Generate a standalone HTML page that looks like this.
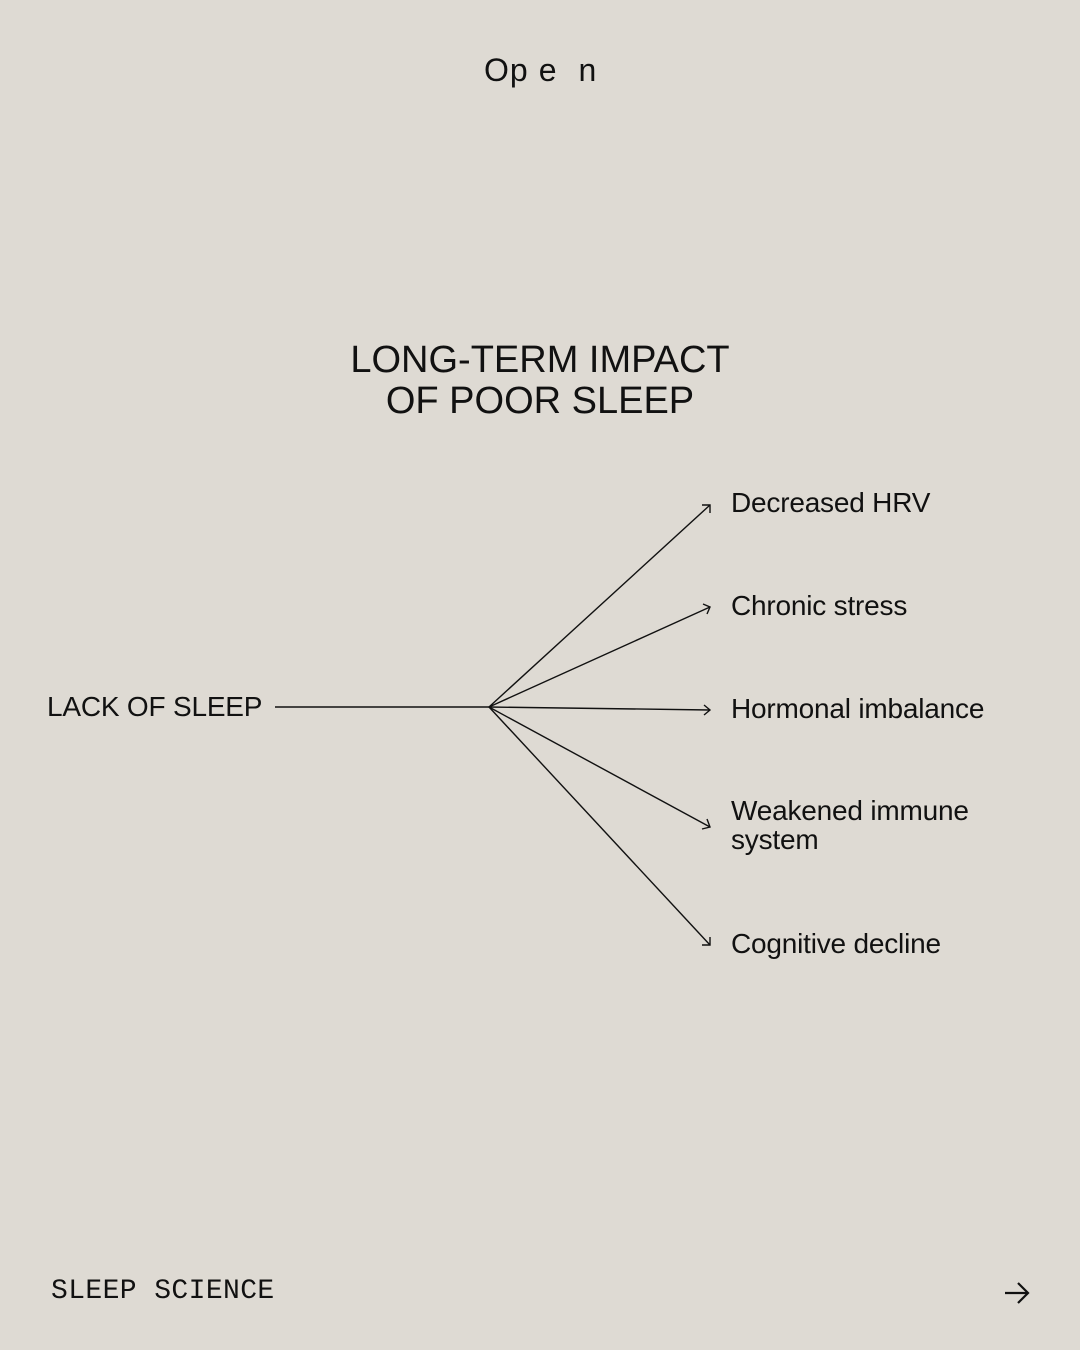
<!DOCTYPE html>
<html><head><meta charset="utf-8"><style>
html,body{margin:0;padding:0}
body{width:1080px;height:1350px;background:#dedad3;position:relative;font-family:"Liberation Sans",sans-serif;color:#111;overflow:hidden}
.t{position:absolute;white-space:nowrap}
.l{font-size:28px;letter-spacing:-0.2px}
</style></head><body>
<div class="t" style="left:484px;top:52px;font-size:32px;letter-spacing:1px">Op<span style="margin-left:10px">e</span><span style="margin-left:21px">n</span></div>
<div class="t" style="left:0;width:1080px;top:340px;text-align:center;font-size:38px;line-height:41px;letter-spacing:0">LONG-TERM IMPACT<br>OF POOR SLEEP</div>
<div class="t l" style="left:47px;top:691px">LACK OF SLEEP</div>
<div class="t l" style="left:731px;top:487px">Decreased HRV</div>
<div class="t l" style="left:731px;top:590px">Chronic stress</div>
<div class="t l" style="left:731px;top:693px">Hormonal imbalance</div>
<div class="t l" style="left:731px;top:796px;line-height:29px">Weakened immune<br>system</div>
<div class="t l" style="left:731px;top:928px">Cognitive decline</div>
<div class="t" style="left:51px;top:1276px;font-size:28px;font-family:'Liberation Mono',monospace;letter-spacing:0.4px">SLEEP SCIENCE</div>
<svg width="1080" height="1350" style="position:absolute;left:0;top:0" fill="none" stroke="#111" stroke-width="1.6">
<line x1="275" y1="707" x2="489" y2="707"/>
<g stroke-width="1.4">
<line x1="489" y1="707" x2="710" y2="505"/><polyline points="702,505 710,505 710,513"/>
<line x1="489" y1="707" x2="710" y2="607"/><polyline points="703,604 710,607 707,614"/>
<line x1="489" y1="707" x2="710" y2="710"/><polyline points="704,705 710,710 704,715"/>
<line x1="489" y1="707" x2="710" y2="827"/><polyline points="707,819 710,827 702,829"/>
<line x1="489" y1="707" x2="710" y2="945"/><polyline points="710,937 710,945 702,945"/>
</g>
<g stroke-width="2.2"><line x1="1005" y1="1293" x2="1027" y2="1293"/><polyline points="1018,1283 1028,1293 1018,1303"/></g>
</svg>
</body></html>
